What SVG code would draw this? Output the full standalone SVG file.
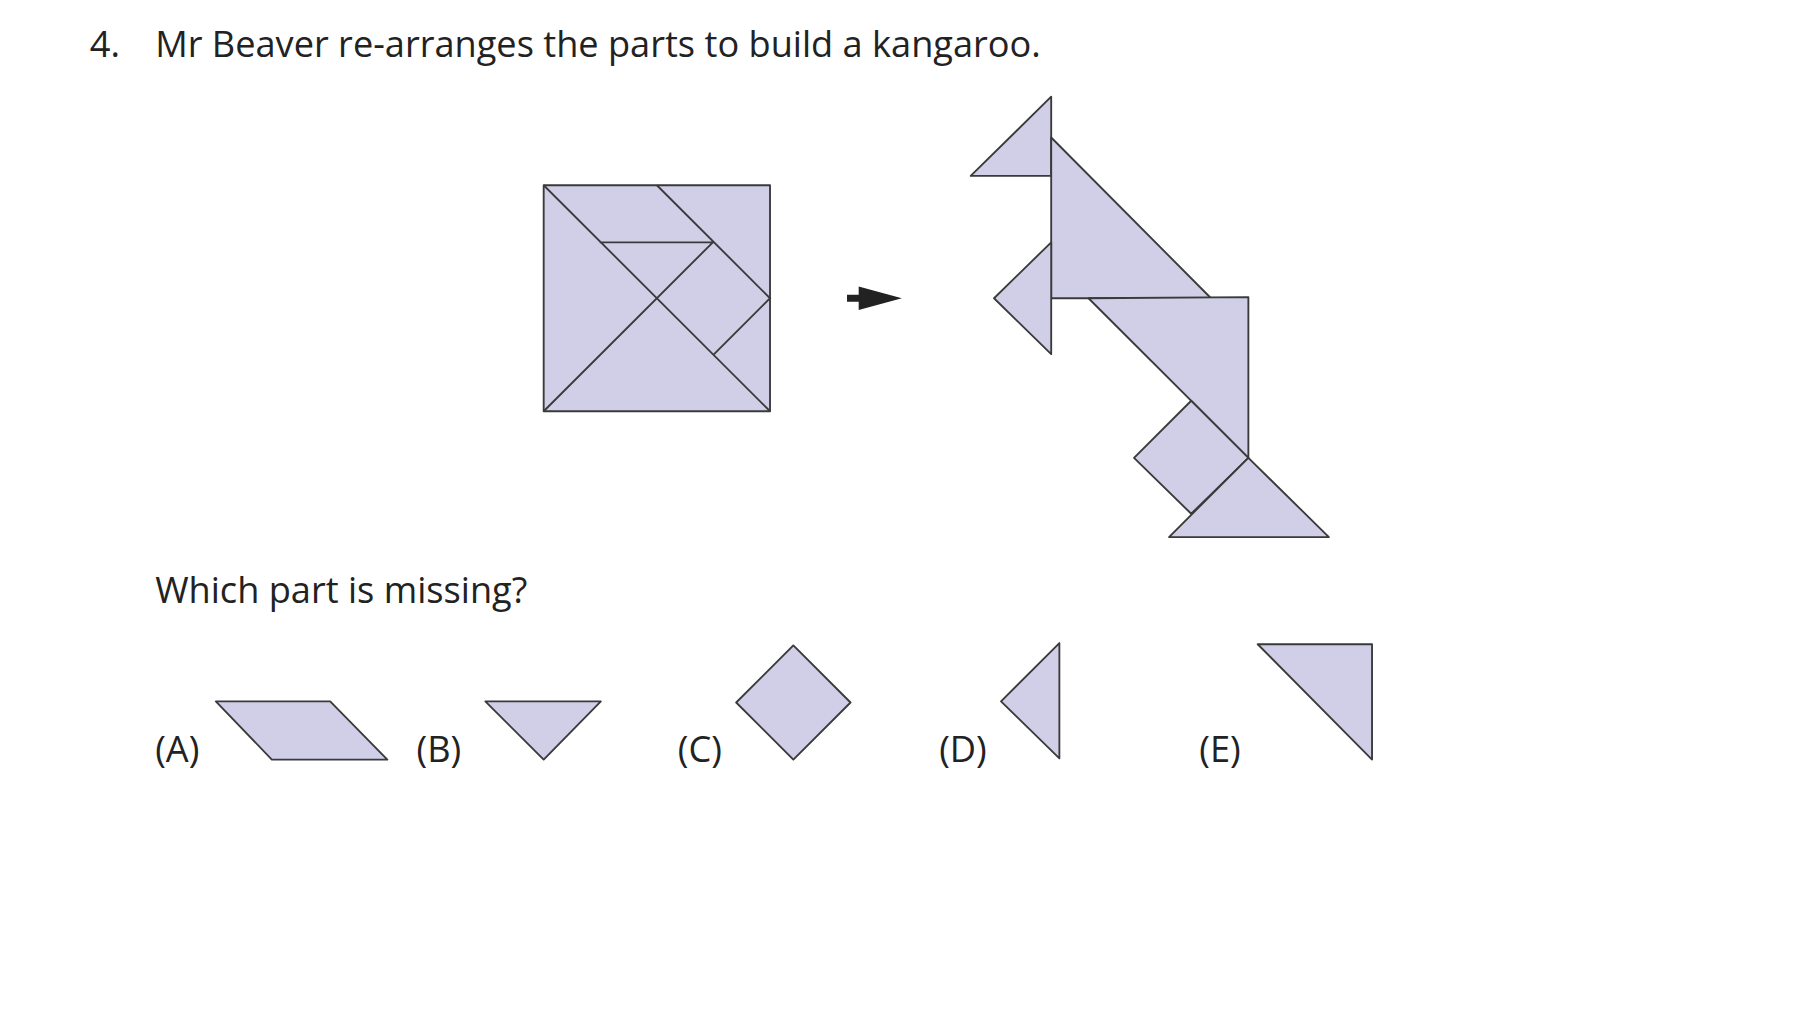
<svg xmlns="http://www.w3.org/2000/svg" width="1820" height="1025" viewBox="0 0 1820 1025">
<style>
.p{fill:#d0cfe7;stroke:#3a3a3a;stroke-width:1.6;stroke-linejoin:round}
.l{stroke:#3a3a3a;stroke-width:1.6;fill:none}
text{font-family:"Open Sans","Noto Sans",sans-serif;font-size:31px;fill:#222}
</style>
<rect width="1820" height="1025" fill="#fff"/>
<g transform="scale(1.1667,1.165)">
<g id="texts">
<text x="77" y="49">4.</text>
<text x="133" y="49">Mr Beaver re-arranges the parts to build a kangaroo.</text>
<text x="133" y="518">Which part is missing?</text>
<text x="133" y="654">(A)</text>
<text x="357" y="654">(B)</text>
<text x="581" y="654">(C)</text>
<text x="805" y="654">(D)</text>
<text x="1028" y="654">(E)</text>
</g>
<g id="square">
<rect class="p" x="466" y="159" width="194" height="194"/>
<path class="l" d="M466 159L660 353M466 353L611 208M514 208H611M563 159L660 256L611 305"/>
</g>
<g id="arrow">
<path d="M726 253H740V259H726Z M736 246L773 256L736 266Z" fill="#222"/>
</g>
<g id="kangaroo">
<polygon class="p" points="901,83 901,151 832,151"/>
<polygon class="p" points="901,118 901,256 1038,256"/>
<polygon class="p" points="901,208 901,304 852,256"/>
<polygon class="p" points="933,256 1070,255 1070,393"/>
<polygon class="p" points="1021,344 1070,393 1021,441 972,393"/>
<polygon class="p" points="1070,393 1139,461 1002,461"/>
</g>
<g id="options">
<polygon class="p" points="185,602 283,602 332,652 233,652"/>
<polygon class="p" points="416,602 515,602 466,652"/>
<polygon class="p" points="680,554 729,603 680,652 631,603"/>
<polygon class="p" points="908,552 908,651 858,602"/>
<polygon class="p" points="1078,553 1176,553 1176,652"/>
</g>
</g>
</svg>
